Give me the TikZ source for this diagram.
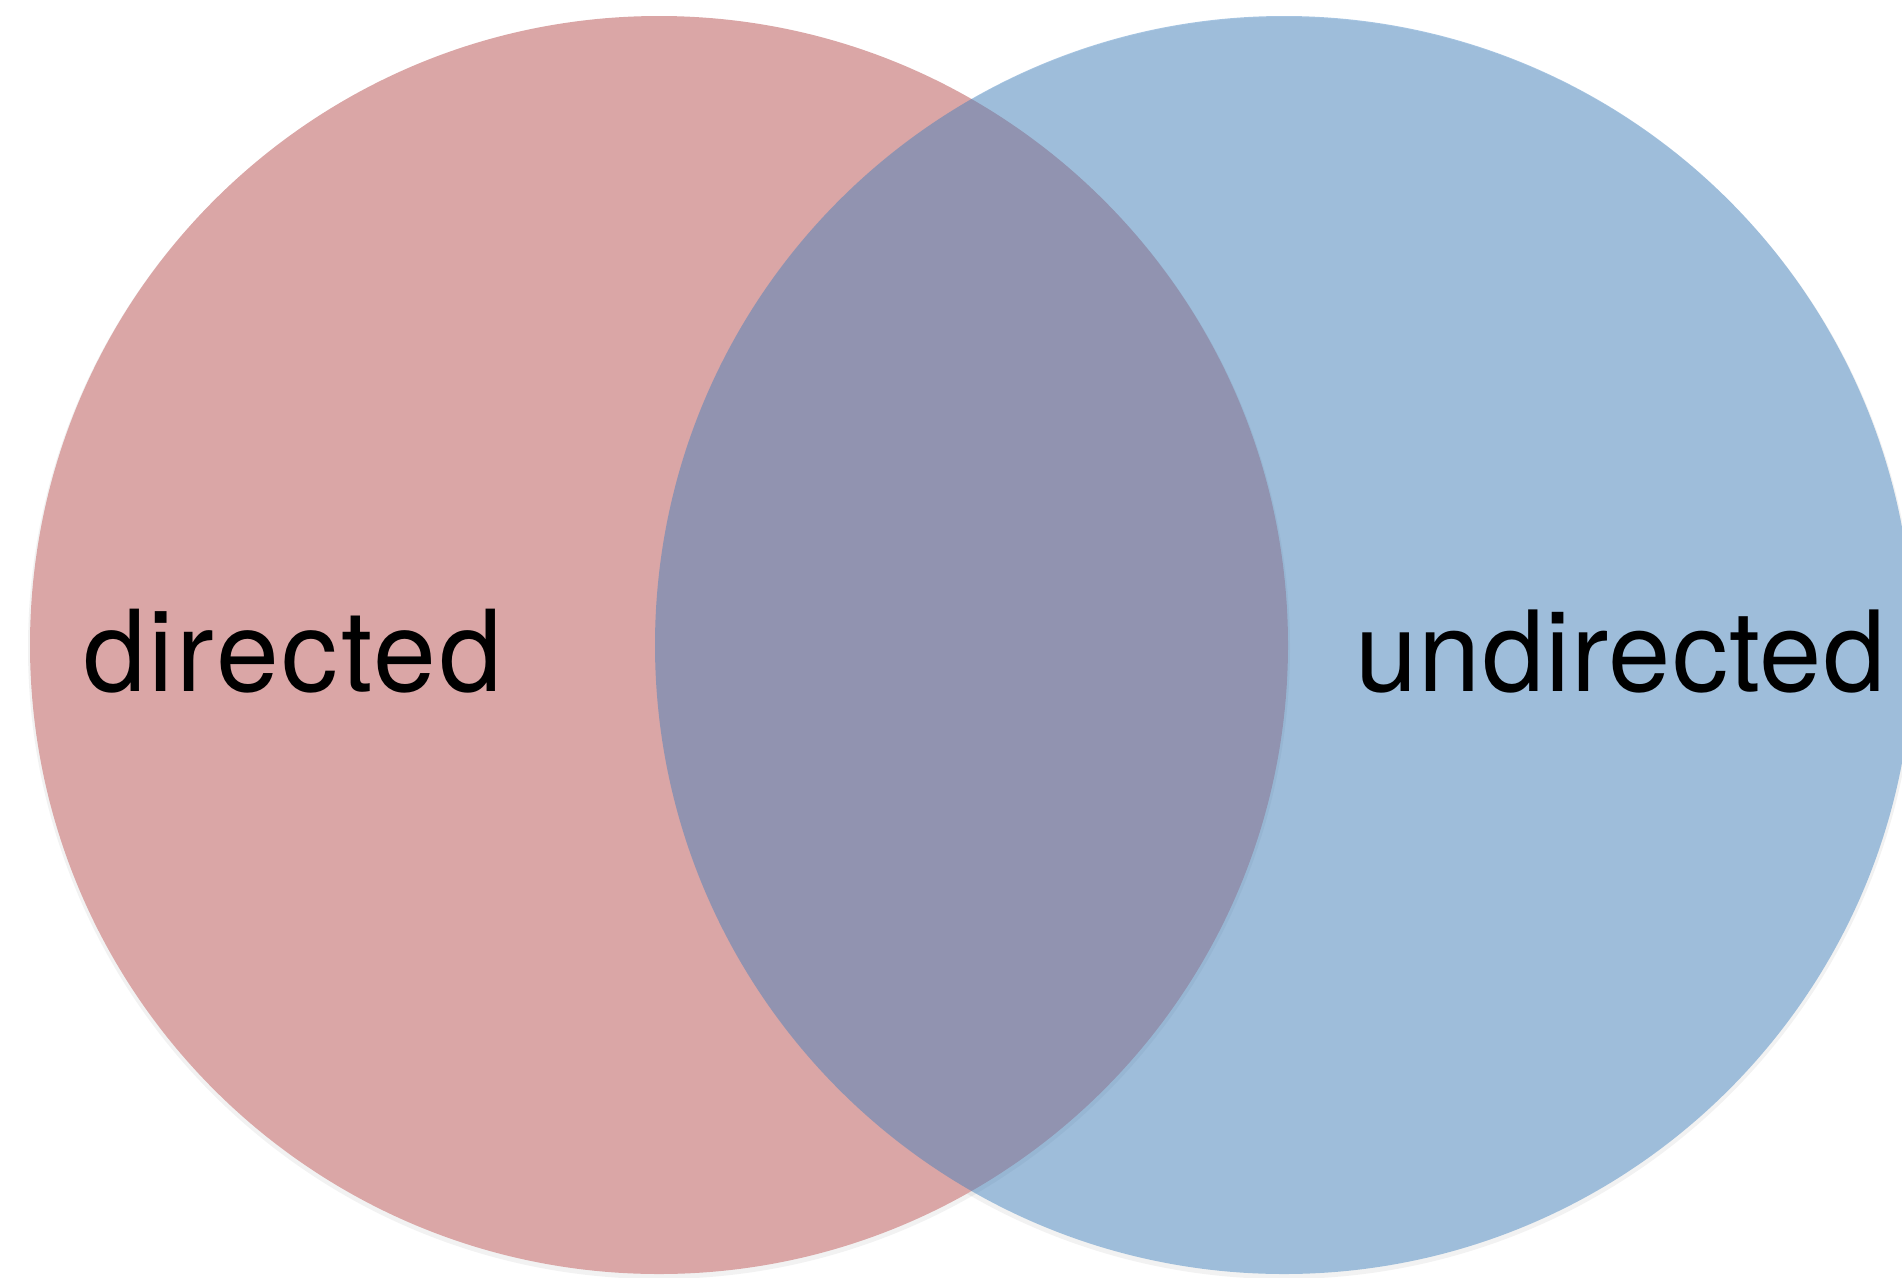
\documentclass[tikz,border=0pt]{standalone}
\usepackage{fontspec}
\setmainfont{TeX Gyre Heros}[LetterSpace=2.5]
\newfontfamily\widelabelfont{TeX Gyre Heros}[LetterSpace=1.0]
\definecolor{setred}{RGB}{218,166,166}
\definecolor{setblue}{RGB}{57,125,189}
\begin{document}
\begin{tikzpicture}[x=1pt,y=-1pt,
  setdisk/.style={circle,minimum size=1258pt,inner sep=0pt},
  setlabel/.style={anchor=base west,inner sep=0pt,font=\fontsize{113}{130}\selectfont}]
\useasboundingbox (0,0) rectangle (1902,1277);
% soft shadows under the discs
\fill[black,opacity=0.05] (659,648) circle (631);
\fill[black,opacity=0.05] (1284,648) circle (631);
% the two sets
\node[setdisk,fill=setred] (dir) at (659,645) {};
\node[setdisk,fill=setblue,fill opacity=0.45] (undir) at (1284,645) {};
% labels
\node[setlabel] (dirlabel) at (83,691) {directed};
\node[setlabel,font=\widelabelfont\fontsize{112}{130}\selectfont] (undirlabel) at (1355,691) {undirected};
\end{tikzpicture}
\end{document}
